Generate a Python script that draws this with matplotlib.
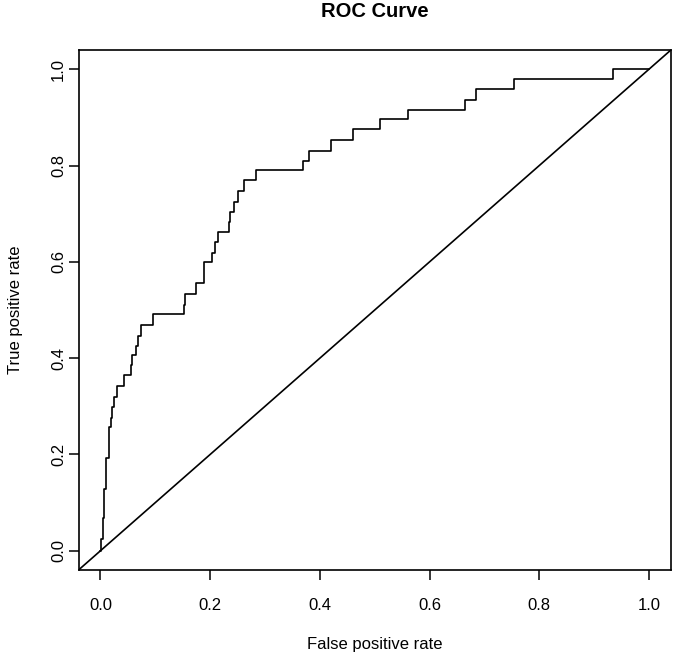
import matplotlib.pyplot as plt
from matplotlib.ticker import FormatStrFormatter

plt.rcParams['font.family'] = ['Liberation Sans', 'DejaVu Sans']

# step corners of the ROC curve: at each fpr the curve rises to tpr
fpr = [0.0, 0.001, 0.004, 0.006, 0.010, 0.015, 0.019, 0.021, 0.025, 0.031,
       0.042, 0.056, 0.058, 0.065, 0.068, 0.074, 0.095, 0.152, 0.155, 0.175,
       0.189, 0.203, 0.209, 0.215, 0.234, 0.237, 0.244, 0.251, 0.262, 0.283,
       0.369, 0.380, 0.420, 0.460, 0.510, 0.561, 0.665, 0.684, 0.754, 0.935,
       1.0]
tpr = [0.0, 0.024, 0.067, 0.129, 0.192, 0.256, 0.275, 0.299, 0.319, 0.342,
       0.364, 0.386, 0.407, 0.426, 0.447, 0.469, 0.492, 0.511, 0.533, 0.556,
       0.600, 0.619, 0.641, 0.663, 0.683, 0.704, 0.725, 0.747, 0.769, 0.790,
       0.809, 0.830, 0.853, 0.875, 0.896, 0.915, 0.936, 0.958, 0.980, 1.0,
       1.0]
ticks = [0.0, 0.2, 0.4, 0.6, 0.8, 1.0]

fig = plt.figure(figsize=(6.77, 6.56), dpi=100)
ax = fig.add_axes([0.1160, 0.1311, 0.875, 0.7927])

ax.step(fpr, tpr, where='post', color='black', lw=1.2)
ax.plot([-0.04, 1.04], [-0.04, 1.04], color='black', lw=1.2)

ax.set_xlim(-0.04, 1.04)
ax.set_ylim(-0.04, 1.04)
ax.set_xticks(ticks)
ax.set_yticks(ticks)
ax.xaxis.set_major_formatter(FormatStrFormatter('%.1f'))
ax.yaxis.set_major_formatter(FormatStrFormatter('%.1f'))
ax.tick_params(axis='both', length=7, width=1.1, labelsize=12, direction='out')
ax.tick_params(axis='x', pad=13)
ax.tick_params(axis='y', pad=2, labelrotation=90)
for lab in ax.get_yticklabels():
    lab.set_va('center')
for s in ax.spines.values():
    s.set_linewidth(1.2)

ax.set_xlabel('False positive rate', fontsize=12)
ax.set_ylabel('True positive rate', fontsize=12)
ax.xaxis.label.set_va('baseline')
ax.xaxis.set_label_coords(0.5, -0.152)
ax.yaxis.label.set_va('center')
ax.yaxis.set_label_coords(-0.106, 0.5)

ax.text(0.5, 1.0635, 'ROC Curve', transform=ax.transAxes, ha='center',
        va='baseline', fontsize=14.5, fontweight='bold')

plt.savefig('out.png', dpi=100)
